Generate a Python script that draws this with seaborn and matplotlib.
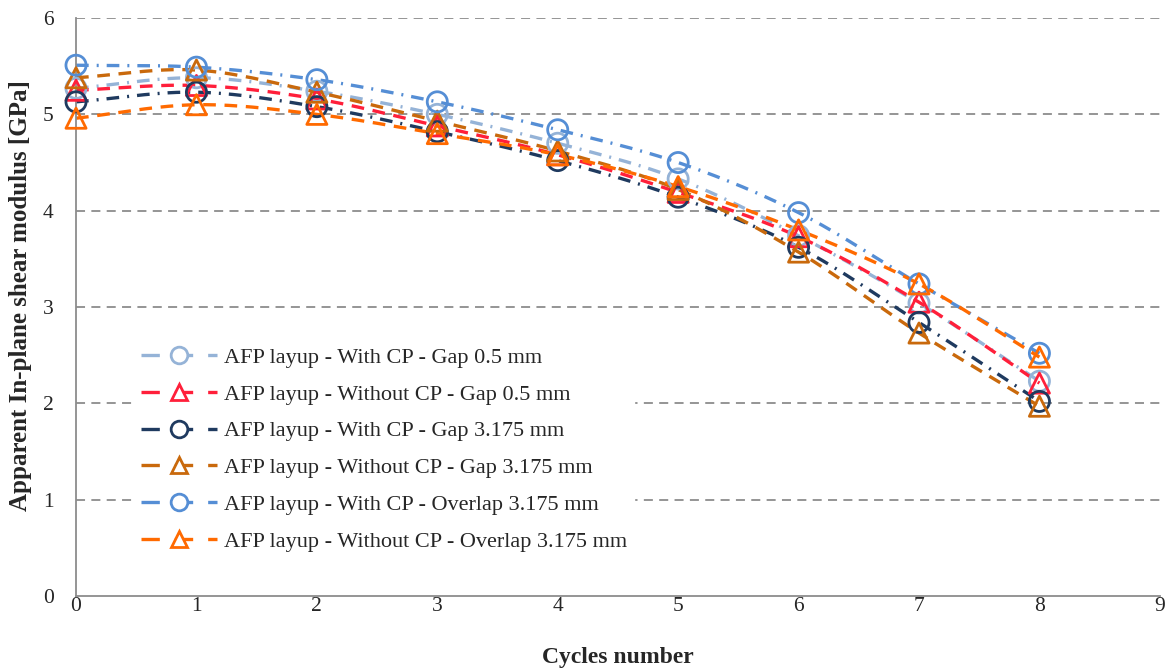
import numpy as np
import pandas as pd
import matplotlib
matplotlib.use("Agg")
import matplotlib.pyplot as plt
from matplotlib.lines import Line2D
import seaborn as sns

# Cycle numbers and measured modulus for each layup configuration [GPa]
cycles = [0, 1, 2, 3, 4, 5, 6, 7, 8]
series_names = [
    "AFP layup - With CP - Gap 0.5 mm",
    "AFP layup - Without CP - Gap 0.5 mm",
    "AFP layup - With CP - Gap 3.175 mm",
    "AFP layup - Without CP - Gap 3.175 mm",
    "AFP layup - With CP - Overlap 3.175 mm",
    "AFP layup - Without CP - Overlap 3.175 mm",
]
with_cp_gap05 = [5.27, 5.38, 5.24, 5.00, 4.70, 4.33, 3.74, 3.04, 2.23]
without_cp_gap05 = [5.25, 5.30, 5.16, 4.88, 4.58, 4.19, 3.73, 3.05, 2.21]
with_cp_gap3175 = [5.13, 5.23, 5.08, 4.82, 4.52, 4.14, 3.62, 2.84, 2.02]
without_cp_gap3175 = [5.38, 5.46, 5.23, 4.93, 4.62, 4.22, 3.57, 2.73, 1.97]
with_cp_overlap3175 = [5.51, 5.49, 5.36, 5.13, 4.84, 4.50, 3.98, 3.24, 2.52]
without_cp_overlap3175 = [4.96, 5.10, 5.00, 4.80, 4.58, 4.25, 3.80, 3.24, 2.48]

values = [with_cp_gap05, without_cp_gap05, with_cp_gap3175,
          without_cp_gap3175, with_cp_overlap3175, without_cp_overlap3175]
colors = ["#95B3D7", "#FF1F3A", "#1F3A5F", "#C9690C", "#558ED5", "#FF6A00"]
markers = ["o", "^", "o", "^", "o", "^"]

DASH = (3.8, 2.6)
DASHDOT = (3.8, 2.4, 0.6, 2.4)
line_dashes = [DASHDOT, DASH, DASHDOT, DASH, DASHDOT, DASH]


def smooth_curve(x, y, n=30):
    """Cardinal (Catmull-Rom) spline through the points, like a smoothed line."""
    x = np.asarray(x, float)
    y = np.asarray(y, float)
    mx = np.gradient(x)
    my = np.empty_like(y)
    my[1:-1] = (y[2:] - y[:-2]) / 2.0
    my[0] = y[1] - y[0]
    my[-1] = y[-1] - y[-2]
    xs, ys = [], []
    for i in range(len(x) - 1):
        t = np.linspace(0, 1, n, endpoint=(i == len(x) - 2))
        h00 = 2 * t**3 - 3 * t**2 + 1
        h10 = t**3 - 2 * t**2 + t
        h01 = -2 * t**3 + 3 * t**2
        h11 = t**3 - t**2
        xs.append(h00 * x[i] + h10 * mx[i] + h01 * x[i + 1] + h11 * mx[i + 1])
        ys.append(h00 * y[i] + h10 * my[i] + h01 * y[i + 1] + h11 * my[i + 1])
    return np.concatenate(xs), np.concatenate(ys)


points = pd.DataFrame(
    [(c, v, name) for name, vals in zip(series_names, values) for c, v in zip(cycles, vals)],
    columns=["cycle", "modulus", "series"],
)
curves = []
for name, vals in zip(series_names, values):
    sx, sy = smooth_curve(cycles, vals)
    curves.append(pd.DataFrame({"cycle": sx, "modulus": sy, "series": name}))
curves = pd.concat(curves, ignore_index=True)

sns.set_theme(style="white")
plt.rcParams["font.family"] = ["Liberation Serif", "DejaVu Serif"]

fig = plt.figure(figsize=(11.75, 6.68), dpi=100)
ax = fig.add_axes([0.0647, 0.1078, 0.9224, 0.8652])

# horizontal gridlines
for yv in [1, 2, 3, 4, 5, 6]:
    ax.axhline(yv, color="#8C8C8C", lw=1.3, dashes=(5, 3.5), zorder=0)

palette = dict(zip(series_names, colors))
dash_map = dict(zip(series_names, line_dashes))
marker_map = dict(zip(series_names, markers))

sns.lineplot(data=curves, x="cycle", y="modulus", hue="series", style="series",
             palette=palette, dashes=dash_map, sort=False, estimator=None,
             linewidth=2.4, legend=False, ax=ax, zorder=2)
sns.scatterplot(data=points, x="cycle", y="modulus", hue="series", style="series",
                palette=palette, markers=marker_map, legend=False, ax=ax,
                s=210, linewidth=2.0, zorder=3, clip_on=False)
# open markers: edge in series colour
for coll in ax.collections:
    fc = coll.get_facecolors()
    coll.set_edgecolors(fc)
    coll.set_facecolors("none")
    coll.set_clip_on(False)

ax.set_xlim(0, 9)
ax.set_ylim(0, 6)
ax.set_xticks(range(0, 10))
ax.set_yticks(range(0, 7))
ax.tick_params(axis="x", labelsize=15.5, length=0, pad=1)
ax.tick_params(axis="y", labelsize=15.5, length=0, pad=16)
ax.set_xlabel("Cycles number", fontsize=17, fontweight="bold", labelpad=22)
ax.set_ylabel("Apparent In-plane shear modulus [GPa]", fontsize=18,
              fontweight="bold")
ax.yaxis.set_label_coords(-0.0405, 0.52)
for side in ["top", "right"]:
    ax.spines[side].set_visible(False)
for side in ["left", "bottom"]:
    ax.spines[side].set_color("#8C8C8C")
    ax.spines[side].set_linewidth(1.3)

handles = [
    Line2D([0], [0], color=c, lw=2.4, dashes=(5.5, 4.5), marker=m, markersize=12,
           markerfacecolor="white", markeredgecolor=c, markeredgewidth=2.0)
    for c, m in zip(colors, markers)
]
leg = ax.legend(handles, series_names, loc="lower left",
                bbox_to_anchor=(0.044, 0.046), frameon=True, fontsize=16,
                handlelength=3.4, labelspacing=0.73, borderpad=0.3,
                handletextpad=0.3)
leg.get_frame().set_facecolor("white")
leg.get_frame().set_edgecolor("white")
leg.get_frame().set_alpha(1.0)

fig.savefig("out.png", dpi=100)
